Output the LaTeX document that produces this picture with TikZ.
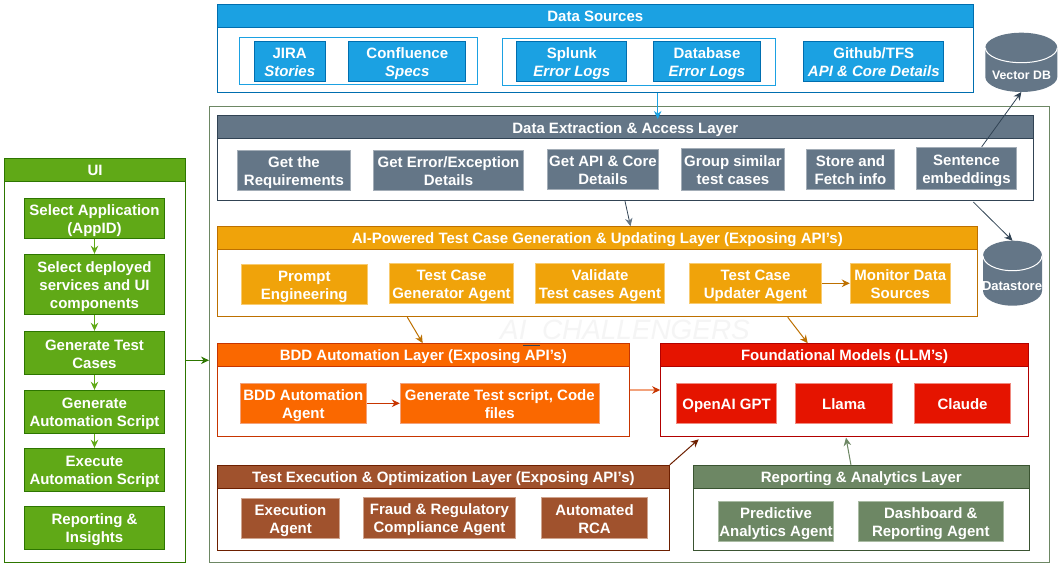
\documentclass[tikz,border=0pt]{standalone}
\usepackage{fontspec}
\setmainfont{Liberation Sans}
\usetikzlibrary{arrows.meta}
\definecolor{bluefill}{HTML}{1BA1E2}
\definecolor{blueline}{HTML}{006EAF}
\definecolor{slatefill}{HTML}{647687}
\definecolor{slateline}{HTML}{314354}
\definecolor{slateedge}{HTML}{A3ADB7}
\definecolor{amberfill}{HTML}{F0A30A}
\definecolor{amberline}{HTML}{BD7000}
\definecolor{amberedge}{HTML}{F8CB70}
\definecolor{orangefill}{HTML}{FA6800}
\definecolor{orangeline}{HTML}{C73500}
\definecolor{orangeedge}{HTML}{F2A27C}
\definecolor{redfill}{HTML}{E51400}
\definecolor{redline}{HTML}{B20000}
\definecolor{rededge}{HTML}{F08A80}
\definecolor{brownfill}{HTML}{A0522D}
\definecolor{brownline}{HTML}{6D1F00}
\definecolor{brownedge}{HTML}{CFA48F}
\definecolor{greenfill}{HTML}{6D8764}
\definecolor{greenline}{HTML}{3A5431}
\definecolor{greenedge}{HTML}{A9BBA3}
\definecolor{limefill}{HTML}{60A917}
\definecolor{limeline}{HTML}{2D7600}
\newcommand{\lines}[1]{\rule{0pt}{15pt}#1\rule[-3pt]{0pt}{3pt}}
\tikzset{
  >={Stealth[length=8pt,width=7.5pt]},
  base/.style={rectangle, inner sep=0pt, text=white, align=center, line width=1pt,
    font=\fontsize{15}{18}\selectfont\bfseries},
  frame/.style={rectangle, fill=white, inner sep=0pt, line width=1pt},
  srcbox/.style={base, fill=bluefill, draw=blueline},
  slatebox/.style={base, fill=slatefill, draw=slateedge},
  slatehead/.style={base, fill=slatefill, draw=slateline},
  amberbox/.style={base, fill=amberfill, draw=amberedge},
  amberhead/.style={base, fill=amberfill, draw=amberline},
  orangebox/.style={base, fill=orangefill, draw=orangeedge},
  orangehead/.style={base, fill=orangefill, draw=orangeline},
  redbox/.style={base, fill=redfill, draw=rededge},
  redhead/.style={base, fill=redfill, draw=redline},
  brownbox/.style={base, fill=brownfill, draw=brownedge},
  brownhead/.style={base, fill=brownfill, draw=brownline},
  greenbox/.style={base, fill=greenfill, draw=greenedge},
  greenhead/.style={base, fill=greenfill, draw=greenline},
  uibox/.style={base, fill=limefill, draw=limeline},
  store/.style={rectangle, inner sep=0pt, outer sep=0pt},
  storetext/.style={text=white, inner sep=0pt, font=\fontsize{13}{16}\selectfont\bfseries}
}
\begin{document}
\begin{tikzpicture}[x=1pt, y=-1pt]
  \useasboundingbox (0,0) rectangle (1062,569);
  % outer frame and watermark
  \node[frame, draw=greenfill, minimum width=839.8, minimum height=455.6] (platform) at (629.4,334.5) {};
  \node[text=black!4, inner sep=0pt, font=\fontsize{27.9}{30}\selectfont\itshape] (mark) at (625,331) {AI\_CHALLENGERS};

  % data sources
  \node[frame, draw=blueline, minimum width=756, minimum height=88] (srcframe) at (595.3,48.3) {};
  \node[srcbox, minimum width=756, minimum height=23.4] (srchead) at (595.3,16) {\lines{Data Sources}};
  \node[frame, draw=bluefill, minimum width=238.4, minimum height=47.4] (srcgroupa) at (358.5,61) {};
  \node[frame, draw=bluefill, minimum width=273.4, minimum height=47.4] (srcgroupb) at (639,62) {};
  \node[srcbox, minimum width=70.7, minimum height=40.4] (jira) at (289.7,61.5) {\lines{JIRA\\\textit{Stories}}};
  \node[srcbox, minimum width=116.7, minimum height=40.4] (confluence) at (407.3,61.5) {\lines{Confluence\\\textit{Specs}}};
  \node[srcbox, minimum width=109.7, minimum height=40.4] (splunk) at (571.8,61.5) {\lines{Splunk\\\textit{Error Logs}}};
  \node[srcbox, minimum width=107.4, minimum height=40.4] (database) at (707,61.5) {\lines{Database\\\textit{Error Logs}}};
  \node[srcbox, minimum width=139.7, minimum height=40.4] (github) at (873.8,61.5) {\lines{Github/TFS\\\textit{API \& Core Details}}};

  % data extraction
  \node[frame, draw=slateline, minimum width=816, minimum height=85] (extframe) at (625.3,158.2) {};
  \node[slatehead, minimum width=816, minimum height=23] (exthead) at (625.3,127.2) {\lines{Data Extraction \& Access Layer}};
  \node[slatebox, minimum width=113.4, minimum height=40.4] (getreq) at (294,170.5) {\lines{Get the\\Requirements}};
  \node[slatebox, minimum width=150.4, minimum height=40.4] (geterror) at (448.5,170.5) {\lines{Get Error/Exception\\Details}};
  \node[slatebox, minimum width=111.4, minimum height=40.4] (getapi) at (603,169.5) {\lines{Get API \& Core\\Details}};
  \node[slatebox, minimum width=103.4, minimum height=42.4] (groupcases) at (733,169.5) {\lines{Group similar\\test cases}};
  \node[slatebox, minimum width=88.4, minimum height=40.4] (storeinfo) at (850.5,169.5) {\lines{Store and\\Fetch info}};
  \node[slatebox, minimum width=100.4, minimum height=42.4] (sentence) at (966.5,168.5) {\lines{Sentence\\embeddings}};

  % stores
  \node[store, minimum width=72, minimum height=59.3] (vectordb) at (1021.3,62.4) {};
  \fill[slatefill] (985.3,47.7) arc (180:0:36pt and 15pt) -- (1057.3,77) arc (0:-180:36pt and 15pt) -- cycle;
  \draw[white, line width=1pt] (985.3,47.7) arc (180:360:36pt and 15pt);
  \node[storetext, font=\fontsize{12.3}{16}\selectfont\bfseries] (vectordbtext) at (1021.5,75) {Vector DB};
  \node[store, minimum width=59, minimum height=65] (datastore) at (1012.5,273.2) {};
  \fill[slatefill] (983,255.7) arc (180:0:29.5pt and 15pt) -- (1042,290.7) arc (0:-180:29.5pt and 15pt) -- cycle;
  \draw[white, line width=1pt] (983,255.7) arc (180:360:29.5pt and 15pt);
  \node[storetext] (datastoretext) at (1012,286) {Datastore};

  % test case generation
  \node[frame, draw=amberline, minimum width=760, minimum height=90] (genframe) at (597.3,271.7) {};
  \node[amberhead, minimum width=760, minimum height=22.6] (genhead) at (597.3,238) {\lines{AI-Powered Test Case Generation \& Updating Layer (Exposing API's)}};
  \node[amberbox, minimum width=126, minimum height=40] (prompt) at (304.3,284.3) {\lines{Prompt\\Engineering}};
  \node[amberbox, minimum width=124.4, minimum height=40] (generator) at (451.5,283.3) {\lines{Test Case\\Generator Agent}};
  \node[amberbox, minimum width=129.4, minimum height=40] (validate) at (600,283.3) {\lines{Validate\\Test cases Agent}};
  \node[amberbox, minimum width=132.4, minimum height=40] (updater) at (755.5,283.3) {\lines{Test Case\\Updater Agent}};
  \node[amberbox, minimum width=100, minimum height=40] (monitor) at (900.3,283.3) {\lines{Monitor Data\\Sources}};

  % bdd automation
  \node[frame, draw=orangeline, minimum width=412, minimum height=92.6] (bddframe) at (423.3,390) {};
  \node[orangehead, minimum width=412, minimum height=22.6] (bddhead) at (423.3,355) {\lines{BDD Automation Layer (Exposing API's)}};
  \draw[slateline, line width=1pt] (523.3,345.6) -- (540,345.6);
  \node[orangebox, minimum width=126, minimum height=40] (bddagent) at (303.3,403.3) {\lines{BDD Automation\\Agent}};
  \node[orangebox, minimum width=199, minimum height=40] (testscript) at (499.8,403.3) {\lines{Generate Test script, Code\\files}};

  % foundational models
  \node[frame, draw=redline, minimum width=367.6, minimum height=92.6] (llmframe) at (844.5,390) {};
  \node[redhead, minimum width=367.6, minimum height=22.6] (llmhead) at (844.5,355) {\lines{Foundational Models (LLM's)}};
  \node[redbox, minimum width=100.4, minimum height=40] (openai) at (726.5,403.3) {\lines{OpenAI GPT}};
  \node[redbox, minimum width=97, minimum height=40] (llama) at (843.8,403.3) {\lines{Llama}};
  \node[redbox, minimum width=95.6, minimum height=40] (claude) at (962.5,403.3) {\lines{Claude}};

  % test execution
  \node[frame, draw=brownline, minimum width=452, minimum height=85] (execframe) at (443.3,507.8) {};
  \node[brownhead, minimum width=452, minimum height=23.4] (exechead) at (443.3,477) {\lines{Test Execution \& Optimization Layer (Exposing API's)}};
  \node[brownbox, minimum width=98.4, minimum height=40.4] (execagent) at (290.5,518.5) {\lines{Execution\\Agent}};
  \node[brownbox, minimum width=152.4, minimum height=41.4] (fraud) at (439.5,518) {\lines{Fraud \& Regulatory\\Compliance Agent}};
  \node[brownbox, minimum width=106.4, minimum height=41.4] (rca) at (594.5,518) {\lines{Automated\\RCA}};

  % reporting
  \node[frame, draw=greenline, minimum width=336, minimum height=84.6] (repframe) at (861.3,508) {};
  \node[greenhead, minimum width=336, minimum height=22.6] (rephead) at (861.3,477) {\lines{Reporting \& Analytics Layer}};
  \node[greenbox, minimum width=115.4, minimum height=40] (predictive) at (776,521.3) {\lines{Predictive\\Analytics Agent}};
  \node[greenbox, minimum width=145, minimum height=40] (dashboard) at (930.8,521.3) {\lines{Dashboard \&\\Reporting Agent}};

  % ui column
  \node[frame, draw=limeline, minimum width=180.6, minimum height=404.4] (uiframe) at (95,360.5) {};
  \node[uibox, minimum width=180.6, minimum height=23.4] (uihead) at (95,170) {\lines{UI}};
  \node[uibox, minimum width=140.4, minimum height=40.4] (uiapp) at (94.5,218.5) {\lines{Select Application\\(AppID)}};
  \node[uibox, minimum width=140.4, minimum height=60.4] (uiservices) at (94.5,284.5) {\lines{Select deployed\\services and UI\\components}};
  \node[uibox, minimum width=140.4, minimum height=43.4] (uicases) at (94.5,353) {\lines{Generate Test\\Cases}};
  \node[uibox, minimum width=140.4, minimum height=43.4] (uiscript) at (94.5,412) {\lines{Generate\\Automation Script}};
  \node[uibox, minimum width=140.4, minimum height=43.4] (uiexec) at (94.5,470) {\lines{Execute\\Automation Script}};
  \node[uibox, minimum width=140.4, minimum height=43.4] (uireport) at (94.5,528) {\lines{Reporting \&\\Insights}};

  % connectors
  \foreach \from/\to in {uiapp/uiservices, uiservices/uicases, uicases/uiscript, uiscript/uiexec}
    \draw[->, limefill, line width=1pt] (\from) -- (\to);
  \draw[->, limeline, line width=1pt] (uiframe.east |- 0,360.3) -- (platform.west |- 0,360.3);
  \draw[->, bluefill, line width=1pt] (657.7,0 |- srcframe.south) -- (657.7,119);
  \draw[slateline, line width=.8pt, -{Stealth[length=8pt,width=7.5pt,color=slatefill]}] (625,0 |- extframe.south) -- (630.5,0 |- genframe.north);
  \draw[->, slateline, line width=.8pt] (sentence.north -| 981.7,0) -- (vectordb.south);
  \draw[->, slateline, line width=.8pt] (973.3,202) -- (datastore.north);
  \draw[->, amberline, line width=1pt] (updater) -- (monitor);
  \draw[->, amberline, line width=1pt] (407.3,0 |- genframe.south) -- (422.7,0 |- bddframe.north);
  \draw[->, amberline, line width=1pt] (787.7,0 |- genframe.south) -- (807.7,0 |- llmframe.north);
  \draw[->, orangeline, line width=1pt] (bddagent) -- (testscript);
  \draw[orangeedge, line width=1.5pt, -{Stealth[length=8pt,width=7.5pt,color=orangeline]}] (bddframe.east |- 0,390) -- (llmframe.west |- 0,390);
  \draw[->, brownline, line width=1pt] (execframe.north east) -- (698.7,439.3);
  \draw[->, greenfill, line width=1pt] (851,0 |- repframe.north) -- (846,437.7);
\end{tikzpicture}
\end{document}
